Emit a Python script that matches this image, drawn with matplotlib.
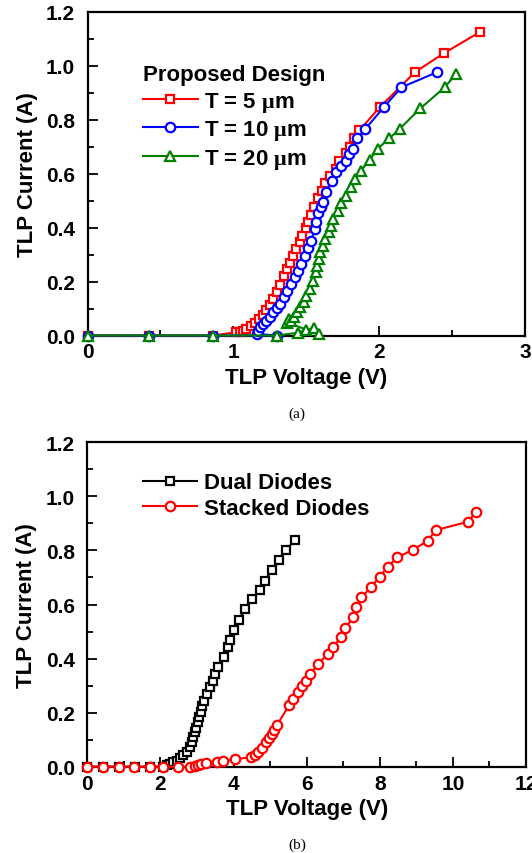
import matplotlib
matplotlib.use("Agg")
import matplotlib.pyplot as plt
from matplotlib.ticker import MultipleLocator, FormatStrFormatter

plt.rcParams['font.family'] = ['Liberation Sans', 'DejaVu Sans']
plt.rcParams['font.weight'] = 'bold'
plt.rcParams['mathtext.fontset'] = 'custom'
plt.rcParams['mathtext.rm'] = 'Liberation Serif'

# (a) Proposed design: TLP I-V for three thicknesses
v_5um = [0.0, 0.42, 0.86, 1.02, 1.045, 1.067, 1.09, 1.118, 1.147, 1.177, 1.20, 1.223, 1.25,
         1.273, 1.296, 1.318, 1.346, 1.365, 1.387, 1.41, 1.433, 1.455, 1.47, 1.497, 1.513,
         1.53, 1.55, 1.58, 1.61, 1.63, 1.665, 1.705, 1.725, 1.775, 1.80, 1.825, 1.865,
         2.003, 2.245, 2.442, 2.688]
i_5um = [0.0, 0.0, 0.0, 0.012, 0.014, 0.018, 0.024, 0.034, 0.046, 0.061, 0.076, 0.094, 0.113,
         0.135, 0.160, 0.188, 0.222, 0.245, 0.27, 0.295, 0.32, 0.345, 0.37, 0.40, 0.42,
         0.445, 0.475, 0.51, 0.535, 0.565, 0.59, 0.615, 0.645, 0.675, 0.70, 0.73, 0.76,
         0.845, 0.975, 1.045, 1.123]

v_10um = [0.0, 0.42, 0.86, 1.30, 1.16, 1.17, 1.182, 1.204, 1.227, 1.25, 1.273, 1.296, 1.318,
          1.346, 1.369, 1.398, 1.421, 1.444, 1.467, 1.49, 1.512, 1.535, 1.558, 1.565, 1.581,
          1.60, 1.615, 1.638, 1.679, 1.702, 1.74, 1.775, 1.79, 1.821, 1.851, 1.905, 2.031,
          2.152, 2.396]
i_10um = [0.0, 0.0, 0.0, 0.0, 0.006, 0.018, 0.030, 0.043, 0.055, 0.067, 0.086, 0.101, 0.117,
          0.141, 0.166, 0.191, 0.216, 0.240, 0.265, 0.296, 0.323, 0.351, 0.394, 0.419, 0.454,
          0.475, 0.493, 0.530, 0.573, 0.607, 0.628, 0.647, 0.672, 0.691, 0.730, 0.765, 0.845,
          0.919, 0.975]

v_20um = [0.0, 0.42, 0.86, 1.30, 1.44, 1.50, 1.555, 1.59, 1.37, 1.38, 1.395, 1.414, 1.437,
          1.46, 1.483, 1.50, 1.524, 1.547, 1.565, 1.575, 1.585, 1.595, 1.612, 1.632, 1.655,
          1.67, 1.684, 1.715, 1.735, 1.77, 1.805, 1.835, 1.875, 1.935, 1.99, 2.07, 2.14,
          2.282, 2.449, 2.529]
i_20um = [0.0, 0.0, 0.0, 0.0, 0.010, 0.022, 0.028, 0.004, 0.048, 0.062, 0.055, 0.070, 0.086,
          0.104, 0.125, 0.147, 0.172, 0.203, 0.234, 0.259, 0.283, 0.308, 0.333, 0.357, 0.382,
          0.407, 0.431, 0.462, 0.491, 0.518, 0.549, 0.580, 0.610, 0.650, 0.692, 0.730, 0.765,
          0.841, 0.919, 0.969]

# (b) Conventional diode strings
v_dual = [0.0, 0.42, 0.87, 1.30, 1.71, 2.08, 2.168, 2.259, 2.35, 2.441, 2.532, 2.623, 2.714,
          2.805, 2.851, 2.896, 2.942, 2.987, 3.033, 3.06, 3.097, 3.151, 3.188, 3.279, 3.352,
          3.443, 3.488, 3.579, 3.734, 3.852, 3.898, 4.007, 4.144, 4.326, 4.508, 4.718, 4.854,
          5.055, 5.237, 5.446, 5.674]
i_dual = [0.0, 0.0, 0.0, 0.0, 0.0, 0.0, 0.006, 0.010, 0.016, 0.022, 0.031, 0.043, 0.055,
          0.072, 0.090, 0.109, 0.127, 0.145, 0.164, 0.182, 0.201, 0.226, 0.244, 0.269, 0.293,
          0.318, 0.343, 0.367, 0.404, 0.441, 0.470, 0.507, 0.544, 0.583, 0.620, 0.654, 0.688,
          0.727, 0.765, 0.801, 0.840]

v_stacked = [0.0, 0.42, 0.87, 1.29, 1.71, 2.07, 2.48, 2.81, 2.94, 3.03, 3.12, 3.26, 3.54, 3.70,
             4.04, 4.49, 4.58, 4.67, 4.79, 4.90, 4.97, 5.04, 5.11, 5.19, 5.52, 5.63, 5.76, 5.86,
             5.97, 6.10, 6.31, 6.58, 6.72, 6.93, 7.06, 7.27, 7.36, 7.50, 7.77, 8.00, 8.22, 8.48,
             8.91, 9.32, 9.53, 10.41, 10.64]
i_stacked = [0.0, 0.0, 0.0, 0.0, 0.0, 0.0, 0.0, 0.0, 0.004, 0.006, 0.009, 0.012, 0.018, 0.022,
             0.028, 0.035, 0.043, 0.053, 0.068, 0.090, 0.105, 0.120, 0.135, 0.154, 0.228, 0.250,
             0.275, 0.297, 0.318, 0.343, 0.380, 0.417, 0.441, 0.478, 0.513, 0.552, 0.589, 0.626,
             0.666, 0.703, 0.740, 0.774, 0.803, 0.836, 0.875, 0.906, 0.944]

labels_a = ["T = 5 $\\mathrm{\\mu}$m", "T = 10 $\\mathrm{\\mu}$m", "T = 20 $\\mathrm{\\mu}$m"]
labels_b = ["Dual Diodes", "Stacked Diodes"]

W, H = 532, 854
fig = plt.figure(figsize=(W / 100, H / 100), dpi=100)
ax1 = fig.add_axes([87.5 / W, 1 - 336.5 / H, 437.5 / W, 324 / H])
ax2 = fig.add_axes([87.3 / W, 1 - 767.7 / H, 438.7 / W, 324.4 / H])

line_kw = dict(lw=1.5, mfc='white', mew=1.6, clip_on=False, zorder=3)

ax1.plot(v_5um, i_5um, '-s', color='#ff0000', ms=6.2, label=labels_a[0], **line_kw)
ax1.plot(v_10um, i_10um, '-o', color='#0000ff', ms=6.8, label=labels_a[1], **line_kw)
ax1.plot(v_20um, i_20um, '-^', color='#008000', ms=7.8, label=labels_a[2], **line_kw)

ax2.plot(v_dual, i_dual, '-s', color='black', ms=6.2, label=labels_b[0], **line_kw)
ax2.plot(v_stacked, i_stacked, '-o', color='#ff0000', ms=6.8, label=labels_b[1], **line_kw)


def style(ax, xmax, xmajor, xminor):
    ax.set_xlim(0, xmax)
    ax.set_ylim(0, 1.2)
    ax.xaxis.set_major_locator(MultipleLocator(xmajor))
    ax.xaxis.set_minor_locator(MultipleLocator(xminor))
    ax.yaxis.set_major_locator(MultipleLocator(0.2))
    ax.yaxis.set_minor_locator(MultipleLocator(0.1))
    ax.yaxis.set_major_formatter(FormatStrFormatter('%.1f'))
    ax.tick_params(which='both', direction='in', top=False, right=False,
                   width=1.3, labelsize=15)
    ax.tick_params(which='major', length=7)
    ax.tick_params(which='minor', length=4)
    ax.tick_params(axis='x', pad=5)
    ax.tick_params(axis='y', pad=9)
    for s in ax.spines.values():
        s.set_linewidth(1.6)
    ax.set_xlabel('TLP Voltage (V)', fontsize=16, fontweight='bold', labelpad=4)
    ax.set_ylabel('TLP Current (A)', fontsize=16, fontweight='bold', labelpad=6)


style(ax1, 3, 1, 0.5)
style(ax2, 12, 2, 1)

leg_kw = dict(loc='upper left', frameon=False, handlelength=2.45, handletextpad=0.3,
              labelspacing=0.2, borderpad=0, borderaxespad=0,
              prop={'size': 16, 'weight': 'bold'})
ax1.legend(title='Proposed Design', bbox_to_anchor=(0.127, 0.837),
           title_fontproperties={'size': 16, 'weight': 'bold'}, alignment='left', **leg_kw)
ax2.legend(bbox_to_anchor=(0.127, 0.907), **leg_kw)

fig.text(297 / W, 1 - 414 / H, '(a)', ha='center', va='center',
         family='Liberation Serif', fontsize=11, weight='normal')
fig.text(297 / W, 1 - 845 / H, '(b)', ha='center', va='center',
         family='Liberation Serif', fontsize=11, weight='normal')

fig.savefig('out.png', dpi=100)
